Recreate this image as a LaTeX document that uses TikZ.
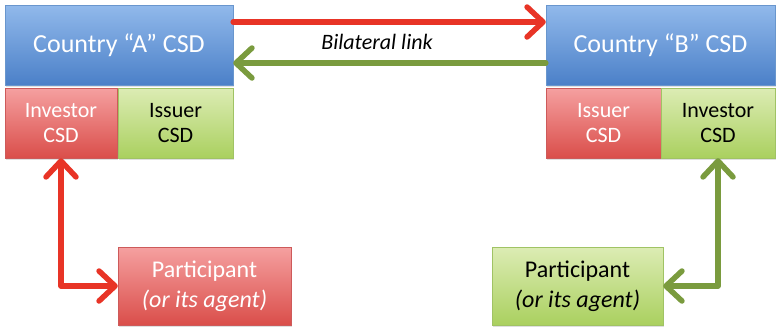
\documentclass[tikz,border=0pt]{standalone}
\usepackage{fontspec}
\setmainfont{Carlito}
\usetikzlibrary{arrows.meta,shadows}
\definecolor{bluetop}{RGB}{145,185,235}
\definecolor{bluebot}{RGB}{75,128,200}
\definecolor{blueedge}{RGB}{105,150,205}
\definecolor{redtop}{RGB}{245,160,160}
\definecolor{redbot}{RGB}{218,78,74}
\definecolor{rededge}{RGB}{205,90,90}
\definecolor{greentop}{RGB}{220,236,180}
\definecolor{greenbot}{RGB}{170,208,95}
\definecolor{greenedge}{RGB}{160,195,100}
\definecolor{redline}{RGB}{232,52,38}
\definecolor{greenline}{RGB}{122,155,62}
\tikzset{
  box/.style={rectangle, inner sep=0pt, align=center,
    drop shadow={shadow xshift=1pt, shadow yshift=-1.5pt, opacity=0.25}},
  bluebox/.style={box, top color=bluetop, bottom color=bluebot, draw=blueedge, text=white},
  redbox/.style={box, top color=redtop, bottom color=redbot, draw=rededge, text=white},
  greenbox/.style={box, top color=greentop, bottom color=greenbot, draw=greenedge, text=black},
  big/.style={font=\fontsize{26}{28}\selectfont},
  mid/.style={font=\fontsize{22}{25}\selectfont},
  part/.style={font=\fontsize{24}{30}\selectfont},
  barb/.tip={Straight Barb[length=16pt, width=30pt, round]},
  link/.style={line width=5.5pt, line cap=round, line join=round, arrows={-barb}},
  twolink/.style={line width=5.5pt, line cap=round, line join=round, arrows={barb-barb}}
}
\begin{document}
\begin{tikzpicture}[x=1pt, y=-1pt]
\useasboundingbox (0,0) rectangle (778,330);

% Country A
\node[bluebox, big, minimum width=228pt, minimum height=80pt] (ca) at (119,45) {Country “A” CSD};
\node[redbox, mid, minimum width=112pt, minimum height=70pt] (inva) at (61,123) {Investor\\CSD};
\node[greenbox, mid, minimum width=115pt, minimum height=70pt] (issa) at (175.5,123) {Issuer\\CSD};

% Country B
\node[bluebox, big, minimum width=229pt, minimum height=80pt] (cb) at (660.5,45) {Country “B” CSD};
\node[redbox, mid, minimum width=115pt, minimum height=70pt] (issb) at (603.5,123) {Issuer\\CSD};
\node[greenbox, mid, minimum width=114pt, minimum height=70pt] (invb) at (718,123) {Investor\\CSD};

% Participants
\node[redbox, part, minimum width=173pt, minimum height=78pt] (pa) at (204.5,286) {Participant\\\textit{(or its agent)}};
\node[greenbox, part, minimum width=171pt, minimum height=78pt] (pb) at (577.5,286) {Participant\\\textit{(or its agent)}};

% Bilateral link
\coordinate (ytop) at (0,22);
\coordinate (ybot) at (0,63);
\draw[link, redline] (ca.east |- ytop) -- (cb.west |- ytop);
\draw[link, greenline] (cb.west |- ybot) -- (ca.east |- ybot);
\node[font=\fontsize{22}{24}\selectfont\itshape] (bl) at (377,42) {Bilateral link};

% Participant connections
\draw[twolink, redline] (inva.south) |- (pa.west);
\draw[twolink, greenline] (invb.south) |- (pb.east);
\end{tikzpicture}
\end{document}
